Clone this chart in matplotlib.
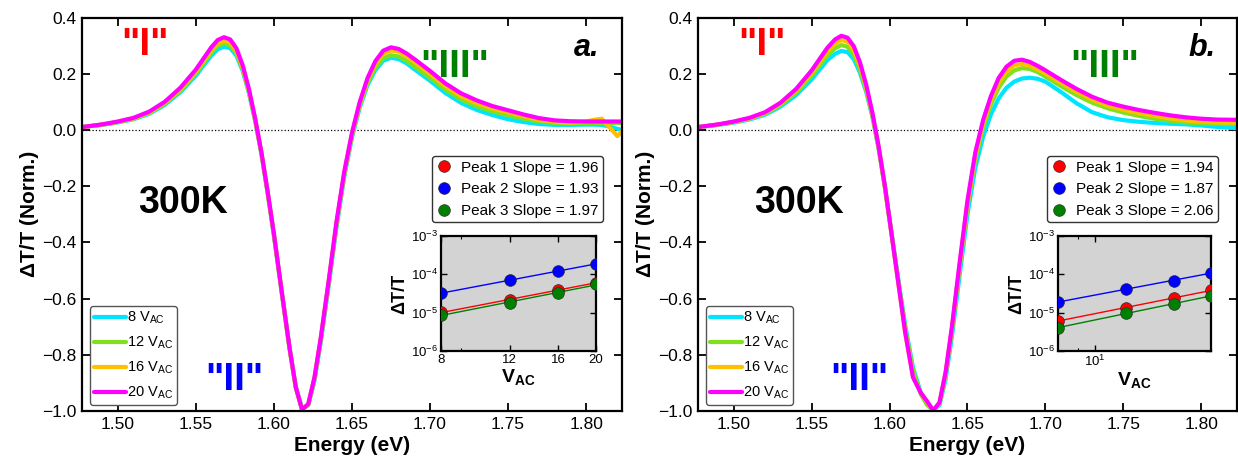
import numpy as np
import matplotlib
matplotlib.use("Agg")
import matplotlib.pyplot as plt
from matplotlib.ticker import FixedLocator, FixedFormatter, NullFormatter, NullLocator, LogLocator

plt.rcParams['font.family'] = ['Liberation Sans', 'DejaVu Sans']
plt.rcParams['mathtext.fontset'] = 'custom'
plt.rcParams['mathtext.rm'] = 'Liberation Sans'
plt.rcParams['mathtext.bf'] = 'Liberation Sans:bold'
plt.rcParams['mathtext.default'] = 'regular'

# ---- panel a: spectra ----
energy_a = [1.477, 1.49, 1.50, 1.51, 1.52, 1.53, 1.54, 1.55, 1.555, 1.56, 1.564, 1.568, 1.572, 1.576,
            1.58, 1.584, 1.588, 1.592, 1.596, 1.60, 1.605, 1.61, 1.614, 1.618, 1.622, 1.626, 1.63,
            1.635, 1.64, 1.645, 1.65, 1.655, 1.66, 1.665, 1.67, 1.675, 1.68, 1.685, 1.69, 1.70, 1.71,
            1.72, 1.73, 1.74, 1.75, 1.76, 1.77, 1.78, 1.79, 1.80, 1.805, 1.81, 1.815, 1.82, 1.823]
a_8v = [0.010, 0.018, 0.027, 0.038, 0.057, 0.089, 0.134, 0.193, 0.230, 0.265, 0.287, 0.296, 0.291, 0.264,
        0.210, 0.131, 0.032, -0.086, -0.226, -0.376, -0.578, -0.776, -0.913, -0.990, -0.980, -0.892, -0.755,
        -0.557, -0.350, -0.168, -0.027, 0.080, 0.160, 0.213, 0.246, 0.257, 0.252, 0.237, 0.216, 0.175, 0.131,
        0.096, 0.071, 0.053, 0.038, 0.028, 0.021, 0.018, 0.018, 0.019, 0.019, 0.018, 0.012, 0.004, 0.000]
a_12v = [0.010, 0.019, 0.028, 0.040, 0.060, 0.093, 0.140, 0.201, 0.239, 0.276, 0.299, 0.308, 0.301, 0.272,
         0.216, 0.135, 0.034, -0.084, -0.224, -0.374, -0.578, -0.778, -0.917, -0.995, -0.977, -0.884, -0.745,
         -0.547, -0.340, -0.160, -0.020, 0.087, 0.168, 0.222, 0.255, 0.266, 0.261, 0.246, 0.226, 0.186, 0.143,
         0.108, 0.084, 0.066, 0.052, 0.040, 0.030, 0.025, 0.024, 0.025, 0.025, 0.025, 0.025, 0.025, 0.025]
a_16v = [0.010, 0.019, 0.029, 0.041, 0.062, 0.096, 0.144, 0.207, 0.246, 0.284, 0.308, 0.318, 0.311, 0.281,
         0.223, 0.140, 0.037, -0.082, -0.222, -0.372, -0.576, -0.776, -0.916, -0.995, -0.976, -0.882, -0.742,
         -0.543, -0.335, -0.155, -0.015, 0.094, 0.177, 0.235, 0.271, 0.283, 0.278, 0.262, 0.242, 0.200, 0.155,
         0.120, 0.095, 0.077, 0.063, 0.049, 0.036, 0.029, 0.026, 0.030, 0.036, 0.040, 0.010, -0.022, -0.005]
a_20v = [0.010, 0.020, 0.030, 0.043, 0.065, 0.100, 0.150, 0.215, 0.255, 0.295, 0.320, 0.330, 0.322, 0.290,
         0.230, 0.145, 0.040, -0.080, -0.220, -0.370, -0.575, -0.775, -0.915, -0.995, -0.975, -0.880, -0.740,
         -0.540, -0.330, -0.150, -0.010, 0.100, 0.185, 0.245, 0.282, 0.294, 0.288, 0.272, 0.252, 0.210, 0.165,
         0.130, 0.105, 0.085, 0.070, 0.055, 0.042, 0.034, 0.031, 0.030, 0.030, 0.030, 0.030, 0.030, 0.030]

# ---- panel b: spectra ----
energy_b = [1.477, 1.49, 1.50, 1.51, 1.52, 1.53, 1.54, 1.55, 1.555, 1.56, 1.565, 1.569, 1.573, 1.577,
            1.581, 1.585, 1.589, 1.593, 1.597, 1.601, 1.605, 1.61, 1.615, 1.62, 1.624, 1.628, 1.632,
            1.636, 1.64, 1.645, 1.65, 1.655, 1.66, 1.665, 1.67, 1.675, 1.68, 1.685, 1.69, 1.695, 1.70,
            1.71, 1.72, 1.73, 1.74, 1.75, 1.76, 1.77, 1.78, 1.79, 1.80, 1.81, 1.823]
b_8v = [0.010, 0.018, 0.026, 0.037, 0.054, 0.083, 0.124, 0.180, 0.214, 0.248, 0.271, 0.281, 0.277, 0.252,
        0.203, 0.135, 0.046, -0.068, -0.205, -0.358, -0.510, -0.695, -0.845, -0.935, -0.975, -0.995, -0.980,
        -0.885, -0.735, -0.515, -0.300, -0.135, -0.025, 0.055, 0.112, 0.150, 0.172, 0.183, 0.186, 0.182, 0.172,
        0.135, 0.095, 0.063, 0.045, 0.035, 0.029, 0.025, 0.022, 0.020, 0.016, 0.011, 0.006]
b_12v = [0.010, 0.019, 0.028, 0.040, 0.058, 0.089, 0.133, 0.193, 0.229, 0.265, 0.291, 0.302, 0.296, 0.268,
         0.215, 0.142, 0.050, -0.066, -0.205, -0.360, -0.515, -0.705, -0.855, -0.940, -0.978, -0.998, -0.975,
         -0.870, -0.712, -0.488, -0.272, -0.105, 0.008, 0.090, 0.150, 0.190, 0.212, 0.220, 0.217, 0.206, 0.190,
         0.156, 0.124, 0.097, 0.077, 0.062, 0.050, 0.040, 0.033, 0.027, 0.024, 0.022, 0.021]
b_16v = [0.010, 0.019, 0.029, 0.041, 0.060, 0.093, 0.140, 0.203, 0.241, 0.279, 0.308, 0.320, 0.314, 0.285,
         0.229, 0.152, 0.055, -0.063, -0.203, -0.362, -0.522, -0.722, -0.878, -0.935, -0.968, -0.998, -0.972,
         -0.864, -0.705, -0.478, -0.260, -0.092, 0.022, 0.105, 0.168, 0.208, 0.230, 0.235, 0.229, 0.216, 0.201,
         0.168, 0.136, 0.108, 0.087, 0.072, 0.060, 0.050, 0.041, 0.034, 0.030, 0.027, 0.026]
b_20v = [0.010, 0.020, 0.030, 0.043, 0.063, 0.097, 0.146, 0.212, 0.252, 0.292, 0.322, 0.335, 0.328, 0.298,
         0.240, 0.160, 0.060, -0.060, -0.200, -0.360, -0.520, -0.720, -0.880, -0.935, -0.965, -0.998, -0.970,
         -0.860, -0.700, -0.470, -0.250, -0.080, 0.035, 0.120, 0.185, 0.225, 0.246, 0.250, 0.242, 0.228, 0.212,
         0.178, 0.146, 0.118, 0.097, 0.083, 0.071, 0.061, 0.052, 0.045, 0.040, 0.037, 0.036]

voltage_labels = [r'8 V$_{AC}$', r'12 V$_{AC}$', r'16 V$_{AC}$', r'20 V$_{AC}$']
line_colors = ['#00E5FF', '#7FE01E', '#FFC000', '#FF00FF']

# ---- insets: peak amplitude vs V_AC ----
v_ac = [8, 12, 16, 20]
a_peak1 = [1.02e-5, 2.14e-5, 3.9e-5, 6.1e-5]
a_peak2 = [3.2e-5, 7.1e-5, 1.22e-4, 1.86e-4]
a_peak3 = [8.7e-6, 1.82e-5, 3.3e-5, 5.5e-5]
b_peak1 = [6.1e-6, 1.36e-5, 2.34e-5, 3.9e-5]
b_peak2 = [1.9e-5, 4.1e-5, 6.8e-5, 1.1e-4]
b_peak3 = [4.0e-6, 9.9e-6, 1.66e-5, 2.75e-5]
a_slopes = ['1.96', '1.93', '1.97']
b_slopes = ['1.94', '1.87', '2.06']
peak_colors = ['#FF0000', '#0000FF', '#008000']


def main_panel(ax, energy, curves, letter, pos_I, pos_II, pos_III):
    for y, c, lab in zip(curves, line_colors, voltage_labels):
        ax.plot(energy, y, color=c, lw=3, label=lab, solid_capstyle='round', solid_joinstyle='round')
    ax.axhline(0, color='k', ls=':', lw=0.9, zorder=0)
    ax.set_xlim(1.477, 1.823)
    ax.set_ylim(-1.0, 0.4)
    ax.set_xticks([1.50, 1.55, 1.60, 1.65, 1.70, 1.75, 1.80])
    ax.set_yticks([-1.0, -0.8, -0.6, -0.4, -0.2, 0.0, 0.2, 0.4])
    ax.set_xticklabels(['1.50', '1.55', '1.60', '1.65', '1.70', '1.75', '1.80'])
    ax.set_yticklabels(['\u22121.0', '\u22120.8', '\u22120.6', '\u22120.4', '\u22120.2', '0.0', '0.2', '0.4'])
    ax.tick_params(direction='in', top=True, right=True, length=6, width=1.3, labelsize=12.5, pad=4)
    for s in ax.spines.values():
        s.set_linewidth(1.6)
    ax.set_xlabel('Energy (eV)', fontsize=15, fontweight='bold', labelpad=3)
    ax.set_ylabel('\u0394T/T (Norm.)', fontsize=15, fontweight='bold', labelpad=2)
    ax.text(pos_I[0], pos_I[1], '"I"', color='#FF0000', fontsize=28, fontweight='bold',
            transform=ax.transAxes, ha='center', va='center')
    ax.text(pos_II[0], pos_II[1], '"II"', color='#0000FF', fontsize=28, fontweight='bold',
            transform=ax.transAxes, ha='center', va='center')
    ax.text(pos_III[0], pos_III[1], '"III"', color='#008000', fontsize=28, fontweight='bold',
            transform=ax.transAxes, ha='center', va='center')
    ax.text(0.935, 0.922, letter, fontsize=22, fontweight='bold', style='italic',
            transform=ax.transAxes, ha='center', va='center')
    ax.text(0.187, 0.529, '300K', fontsize=27, fontweight='bold',
            transform=ax.transAxes, ha='center', va='center')
    leg = ax.legend(loc='lower left', bbox_to_anchor=(0.015, 0.015), borderaxespad=0,
                    fontsize=10.5, handlelength=2.2, handletextpad=0.1, labelspacing=0.6,
                    borderpad=0.25, framealpha=1, edgecolor='#555555', fancybox=True)
    leg.get_frame().set_linewidth(1.0)


def inset_panel(fig, rect, peaks, slopes, legend_anchor, plain_ticks):
    ins = fig.add_axes(rect)
    ins.set_facecolor('#D3D3D3')
    ins.set_xscale('log')
    ins.set_yscale('log')
    v = np.array(v_ac, dtype=float)
    for vals, c, sl, n in zip(peaks, peak_colors, slopes, [1, 2, 3]):
        vals = np.array(vals)
        k, b = np.polyfit(np.log10(v), np.log10(vals), 1)
        ins.plot(v, 10 ** (b + k * np.log10(v)), color=c, lw=1.0, zorder=2)
        ins.plot(v, vals, 'o', color=c, ms=8.5, mec='#222222', mew=0.4, zorder=3,
                 label='Peak %d Slope = %s' % (n, sl))
    ins.set_xlim(8, 20)
    ins.set_ylim(1e-6, 1e-3)
    if plain_ticks:
        ins.xaxis.set_major_locator(FixedLocator([8, 12, 16, 20]))
        ins.xaxis.set_major_formatter(FixedFormatter(['8', '12', '16', '20']))
    ins.xaxis.set_minor_formatter(NullFormatter())
    ins.yaxis.set_major_locator(LogLocator(base=10, numticks=10))
    ins.yaxis.set_minor_locator(NullLocator())
    ins.tick_params(which='both', direction='in', top=True, right=True, labelsize=9.5, pad=2)
    ins.tick_params(which='major', length=4, width=1.0)
    ins.tick_params(which='minor', length=2.5, width=0.8)
    for s in ins.spines.values():
        s.set_linewidth(1.6)
    ins.set_ylabel('\u0394T/T', fontsize=13, fontweight='bold', labelpad=2)
    ins.set_xlabel(r'$\mathbf{V}_{\mathbf{AC}}$', fontsize=14, labelpad=1)
    leg = ins.legend(loc='upper right', bbox_to_anchor=legend_anchor, bbox_transform=fig.transFigure,
                     borderaxespad=0, fontsize=11, handlelength=1.0, handletextpad=0.6,
                     labelspacing=0.5, borderpad=0.3, framealpha=1, edgecolor='#333333')
    leg.get_frame().set_linewidth(1.0)
    return ins


fig = plt.figure(figsize=(12.38, 4.65), dpi=100)
ax_a = fig.add_axes([0.0662, 0.1161, 0.4362, 0.8462])
ax_b = fig.add_axes([0.5638, 0.1161, 0.4354, 0.8462])

main_panel(ax_a, energy_a, [a_8v, a_12v, a_16v, a_20v], 'a.', (0.117, 0.93), (0.283, 0.08), (0.69, 0.875))
main_panel(ax_b, energy_b, [b_8v, b_12v, b_16v, b_20v], 'b.', (0.119, 0.93), (0.30, 0.08), (0.755, 0.875))

inset_panel(fig, [0.3562, 0.2452, 0.1252, 0.2473], [a_peak1, a_peak2, a_peak3], a_slopes,
            (603 / 1238, 1 - 156 / 465), True)
inset_panel(fig, [0.8546, 0.2452, 0.1236, 0.2473], [b_peak1, b_peak2, b_peak3], b_slopes,
            (1218 / 1238, 1 - 156 / 465), False)

fig.savefig('out.png', dpi=100)
